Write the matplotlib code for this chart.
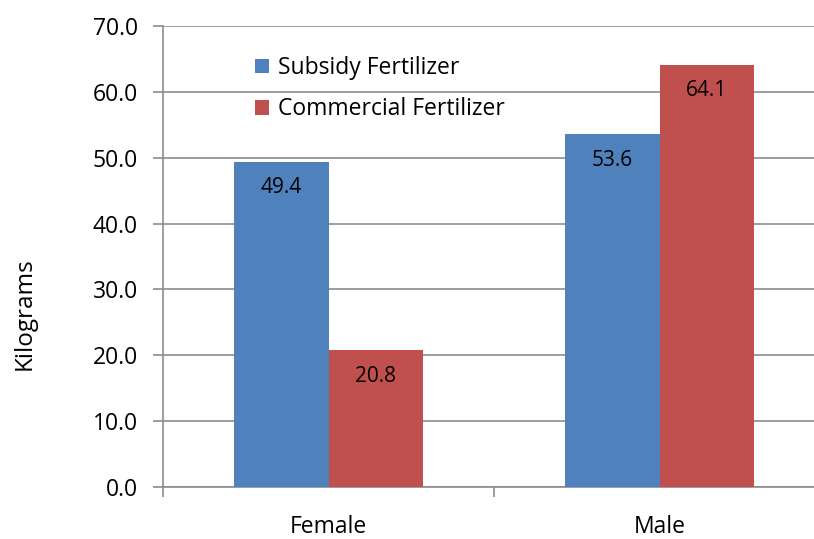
import matplotlib.pyplot as plt
import numpy as np

categories = ["Female", "Male"]
subsidy = [49.4, 53.6]
commercial = [20.8, 64.1]
series_names = ["Subsidy Fertilizer", "Commercial Fertilizer"]
yticks = [0, 10, 20, 30, 40, 50, 60, 70]

blue = "#4f81bd"
red = "#c0504d"
grid_c = "#8c8c8c"

plt.rcParams['font.family'] = ['Open Sans', 'DejaVu Sans']

fig = plt.figure(figsize=(8.14, 5.39), dpi=100)
ax = fig.add_axes([163 / 814, 1 - 487 / 539, 1 - 163 / 814, (487 - 26) / 539])

x = np.arange(len(categories))
w = 0.286
b1 = ax.bar(x - w / 2, subsidy, w, color=blue, label=series_names[0], zorder=3)
b2 = ax.bar(x + w / 2, commercial, w, color=red, label=series_names[1], zorder=3)

for bars in (b1, b2):
    for r in bars:
        ax.annotate("%.1f" % r.get_height(), (r.get_x() + r.get_width() / 2, r.get_height()),
                    xytext=(0, -26), textcoords="offset pixels",
                    ha="center", va="center", fontsize=15, color="black", zorder=4)

ax.set_xticks([-0.5, 0.5, 1.5])
ax.set_xticklabels([])
ax.set_xticks(x, minor=True)
ax.set_xticklabels(categories, minor=True, fontsize=16.5)
ax.tick_params(axis="x", which="minor", length=0, pad=20)
ax.tick_params(axis="x", which="major", length=7, color=grid_c, width=1.2)
ax.tick_params(axis="y", length=7, color=grid_c, width=1.2, pad=11)

# set limits after the ticks, otherwise set_xticks widens them
ax.set_xlim(-0.5, -0.5 + 651 / 331)
ax.set_ylim(0, 70)
ax.set_yticks(yticks)
ax.set_yticklabels(["%.1f" % v for v in yticks], fontsize=16.5)
ax.yaxis.grid(True, color=grid_c, linewidth=1.2, zorder=0)
ax.set_axisbelow(True)

for s in ["top", "right"]:
    ax.spines[s].set_visible(False)
for s in ["left", "bottom"]:
    ax.spines[s].set_color(grid_c)
    ax.spines[s].set_linewidth(1.2)

ax.set_ylabel("Kilograms", fontsize=17.5)
ax.yaxis.set_label_coords(-0.1935, 0.375)

ax.legend(loc="upper left", bbox_to_anchor=(0.1096, 0.9795), frameon=False, fontsize=16.5,
          handlelength=0.61, handleheight=0.61, handletextpad=0.4, labelspacing=0.75)

fig.savefig("out.png", dpi=100)
